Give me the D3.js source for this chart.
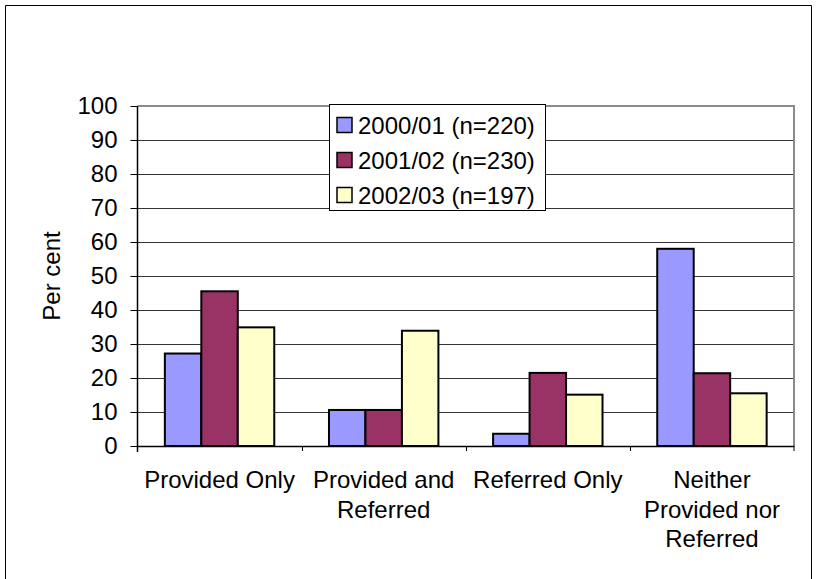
<!DOCTYPE html>
<html>
<head>
<meta charset="utf-8">
<script src="https://cdn.jsdelivr.net/npm/d3@7"></script>
<style>
  html, body { margin: 0; padding: 0; background: #fff; }
  svg { display: block; }
  text { font-family: "Liberation Sans", Arial, sans-serif; fill: #000; }
</style>
</head>
<body>
<svg id="chart" width="817" height="579"></svg>
<script>
// Categories (multi-line labels split on "|")
const categories = ["Provided Only", "Provided and|Referred", "Referred Only", "Neither|Provided nor|Referred"];
const seriesNames = ["2000/01 (n=220)", "2001/02 (n=230)", "2002/03 (n=197)"];
const seriesColors = ["#9999FF", "#993366", "#FFFFCC"];
// Per cent values per series, in category order
const values2000 = [27.2, 10.6, 3.6, 58.0];
const values2001 = [45.5, 10.6, 21.5, 21.4];
const values2002 = [34.9, 33.9, 15.1, 15.5];
const yTicks = [0, 10, 20, 30, 40, 50, 60, 70, 80, 90, 100];
const yTitle = "Per cent";

const seriesValues = [values2000, values2001, values2002];

const svg = d3.select("#chart");
const plot = { left: 137.5, right: 794, top: 106, bottom: 446 };

// Outer chart frame
svg.append("path")
  .attr("d", "M5.5,600 V5.5 H811.5 V600")
  .attr("fill", "none").attr("stroke", "#000").attr("stroke-width", 1);

const x = d3.scaleBand().domain(categories).range([plot.left, plot.right]).paddingInner(0).paddingOuter(0);
const xs = d3.scaleBand().domain(seriesNames).range([0, x.bandwidth()]).paddingInner(0).paddingOuter(0.75);
const y = d3.scaleLinear().domain([0, 100]).range([plot.bottom, plot.top]);

// Gridlines
svg.append("g").selectAll("line").data(yTicks.filter(t => t > 0 && t < 100)).join("line")
  .attr("x1", plot.left).attr("x2", plot.right)
  .attr("y1", d => Math.round(y(d)) + 0.5).attr("y2", d => Math.round(y(d)) + 0.5)
  .attr("stroke", "#333").attr("stroke-width", 1);

// Plot area border (top and right)
svg.append("path")
  .attr("d", `M${plot.left},${y(100)} H${plot.right} V${plot.bottom}`)
  .attr("fill", "none").attr("stroke", "#8c8c8c").attr("stroke-width", 2);

// Bars
const rows = [];
categories.forEach((c, i) => seriesNames.forEach((s, j) => rows.push({ c, s, j, v: seriesValues[j][i] })));
svg.append("g").selectAll("rect").data(rows).join("rect")
  .attr("x", d => x(d.c) + xs(d.s))
  .attr("y", d => y(d.v))
  .attr("width", xs.bandwidth())
  .attr("height", d => y(0) - y(d.v))
  .attr("fill", d => seriesColors[d.j])
  .attr("stroke", "#000").attr("stroke-width", 2);

// Y axis
const yAxis = d3.axisLeft(y).tickValues(yTicks).tickSize(7).tickPadding(13);
const gy = svg.append("g").attr("transform", `translate(${plot.left},0)`).call(yAxis);
gy.select(".domain").attr("stroke", "#000").attr("stroke-width", 1.5).attr("d", `M0,${plot.top}V${plot.bottom + 6}`);
gy.selectAll(".tick line").attr("stroke", "#000");
gy.selectAll(".tick text").attr("font-size", 24).attr("font-family", "Liberation Sans, Arial, sans-serif").attr("fill", "#000");

// X axis
const xAxis = d3.axisBottom(x).tickValues([]).tickSizeOuter(0);
const gx = svg.append("g").attr("transform", `translate(0,${plot.bottom})`).call(xAxis);
gx.select(".domain").attr("stroke", "#000").attr("stroke-width", 1.5);
gx.selectAll("line.cat-tick").data(categories.slice(1)).join("line")
  .attr("class", "cat-tick")
  .attr("x1", d => Math.round(x(d)) + 0.5).attr("x2", d => Math.round(x(d)) + 0.5)
  .attr("y1", 0).attr("y2", 5).attr("stroke", "#000");
gx.append("line").attr("x1", plot.right).attr("x2", plot.right).attr("y1", 0).attr("y2", 5).attr("stroke", "#000");

// Category labels
const catLabels = svg.append("g");
categories.forEach(c => {
  const t = catLabels.append("text")
    .attr("x", x(c) + x.bandwidth() / 2)
    .attr("y", 488)
    .attr("text-anchor", "middle")
    .attr("font-size", 24);
  c.split("|").forEach((line, k) => {
    t.append("tspan").attr("x", x(c) + x.bandwidth() / 2).attr("dy", k === 0 ? 0 : 29.5).text(line);
  });
});

// Y title
svg.append("text")
  .attr("transform", `translate(60,${(plot.top + plot.bottom) / 2}) rotate(-90)`)
  .attr("text-anchor", "middle")
  .attr("font-size", 24)
  .text(yTitle);

// Legend
const legend = svg.append("g").attr("transform", "translate(329.5,104.5)");
legend.append("rect").attr("width", 216).attr("height", 106)
  .attr("fill", "#fff").attr("stroke", "#000").attr("stroke-width", 1);
seriesNames.forEach((s, i) => {
  const cy = 20.5 + i * 35;
  legend.append("rect").attr("x", 7.5).attr("y", cy - 7.5).attr("width", 15).attr("height", 15)
    .attr("fill", seriesColors[i]).attr("stroke", "#000").attr("stroke-width", 1.5);
  legend.append("text").attr("x", 28.5).attr("y", cy + 8.5).attr("font-size", 24).text(s);
});
</script>
</body>
</html>
